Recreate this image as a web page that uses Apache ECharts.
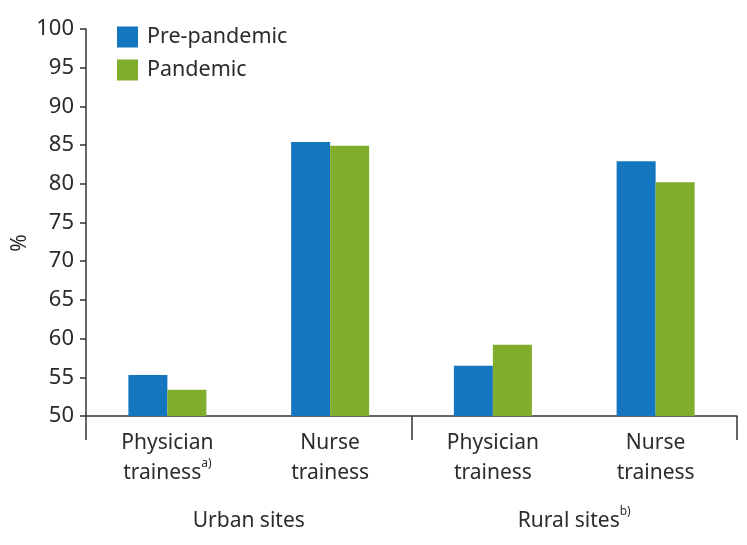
<!DOCTYPE html>
<html><head><meta charset="utf-8">
<script src="https://cdn.jsdelivr.net/npm/echarts@6/dist/echarts.min.js"></script>
<style>html,body{margin:0;padding:0;background:#fff}#c{width:747px;height:545px}</style>
</head><body><div id="c"></div>
<script>
const categories = ['Physician\ntrainess{sup|a)}', 'Nurse\ntrainess', 'Physician\ntrainess', 'Nurse\ntrainess'];
const groups = ['Urban sites', 'Rural sites{sup|b)}'];
const prePandemic = [55.3, 85.4, 56.5, 82.9];
const pandemic = [53.4, 84.9, 59.2, 80.2];
const seriesNames = ['Pre-pandemic', 'Pandemic'];
const yUnit = '%';

const FONT = 'Noto Sans';
const TXT = '#2b2b2b';
const AX = '#333';
const supStyle = {fontSize: 12, lineHeight: 30, verticalAlign: 'top', padding: [0, 0, 12, 0], color: TXT, fontFamily: FONT};
const chart = echarts.init(document.getElementById('c'));
chart.setOption({
  animation: false,
  textStyle: {fontFamily: FONT},
  grid: {left: 86, right: 10, top: 29, bottom: 129, containLabel: false},
  legend: {
    left: 112, top: 21, orient: 'vertical', itemWidth: 21, itemHeight: 21, itemGap: 11,
    icon: 'rect', data: seriesNames,
    textStyle: {fontFamily: FONT, fontSize: 21.5, color: TXT, padding: [0, 0, 0, 4]}
  },
  graphic: [{
    type: 'text', x: 20, y: 243, rotation: Math.PI / 2,
    style: {text: yUnit, fontFamily: FONT, fontSize: 21, fill: TXT, align: 'center', verticalAlign: 'middle'}
  }],
  xAxis: [{
    type: 'category', data: categories, position: 'bottom',
    axisLine: {lineStyle: {color: AX, width: 1.5}},
    axisTick: {show: false},
    axisLabel: {
      margin: 12, fontSize: 21, color: TXT, lineHeight: 30, interval: 0,
      rich: {sup: supStyle}
    }
  }, {
    type: 'category', data: groups, position: 'bottom',
    axisLine: {show: false},
    axisTick: {show: true, length: 24, lineStyle: {color: AX, width: 1.5}},
    axisLabel: {
      margin: 90, fontSize: 21, color: TXT, lineHeight: 30, interval: 0,
      rich: {sup: supStyle}
    }
  }],
  yAxis: {
    type: 'value', min: 50, max: 100, interval: 5,
    axisLine: {show: true, lineStyle: {color: AX, width: 1.5}},
    axisTick: {show: true, length: 6, lineStyle: {color: AX, width: 1.5}},
    axisLabel: {fontSize: 22, color: TXT, margin: 12},
    splitLine: {show: false}
  },
  series: [
    {name: seriesNames[0], type: 'bar', data: prePandemic, barWidth: 39, barGap: '0%', itemStyle: {color: '#1476BE'}},
    {name: seriesNames[1], type: 'bar', data: pandemic, barWidth: 39, barGap: '0%', itemStyle: {color: '#80AD2B'}}
  ]
});
</script></body></html>
